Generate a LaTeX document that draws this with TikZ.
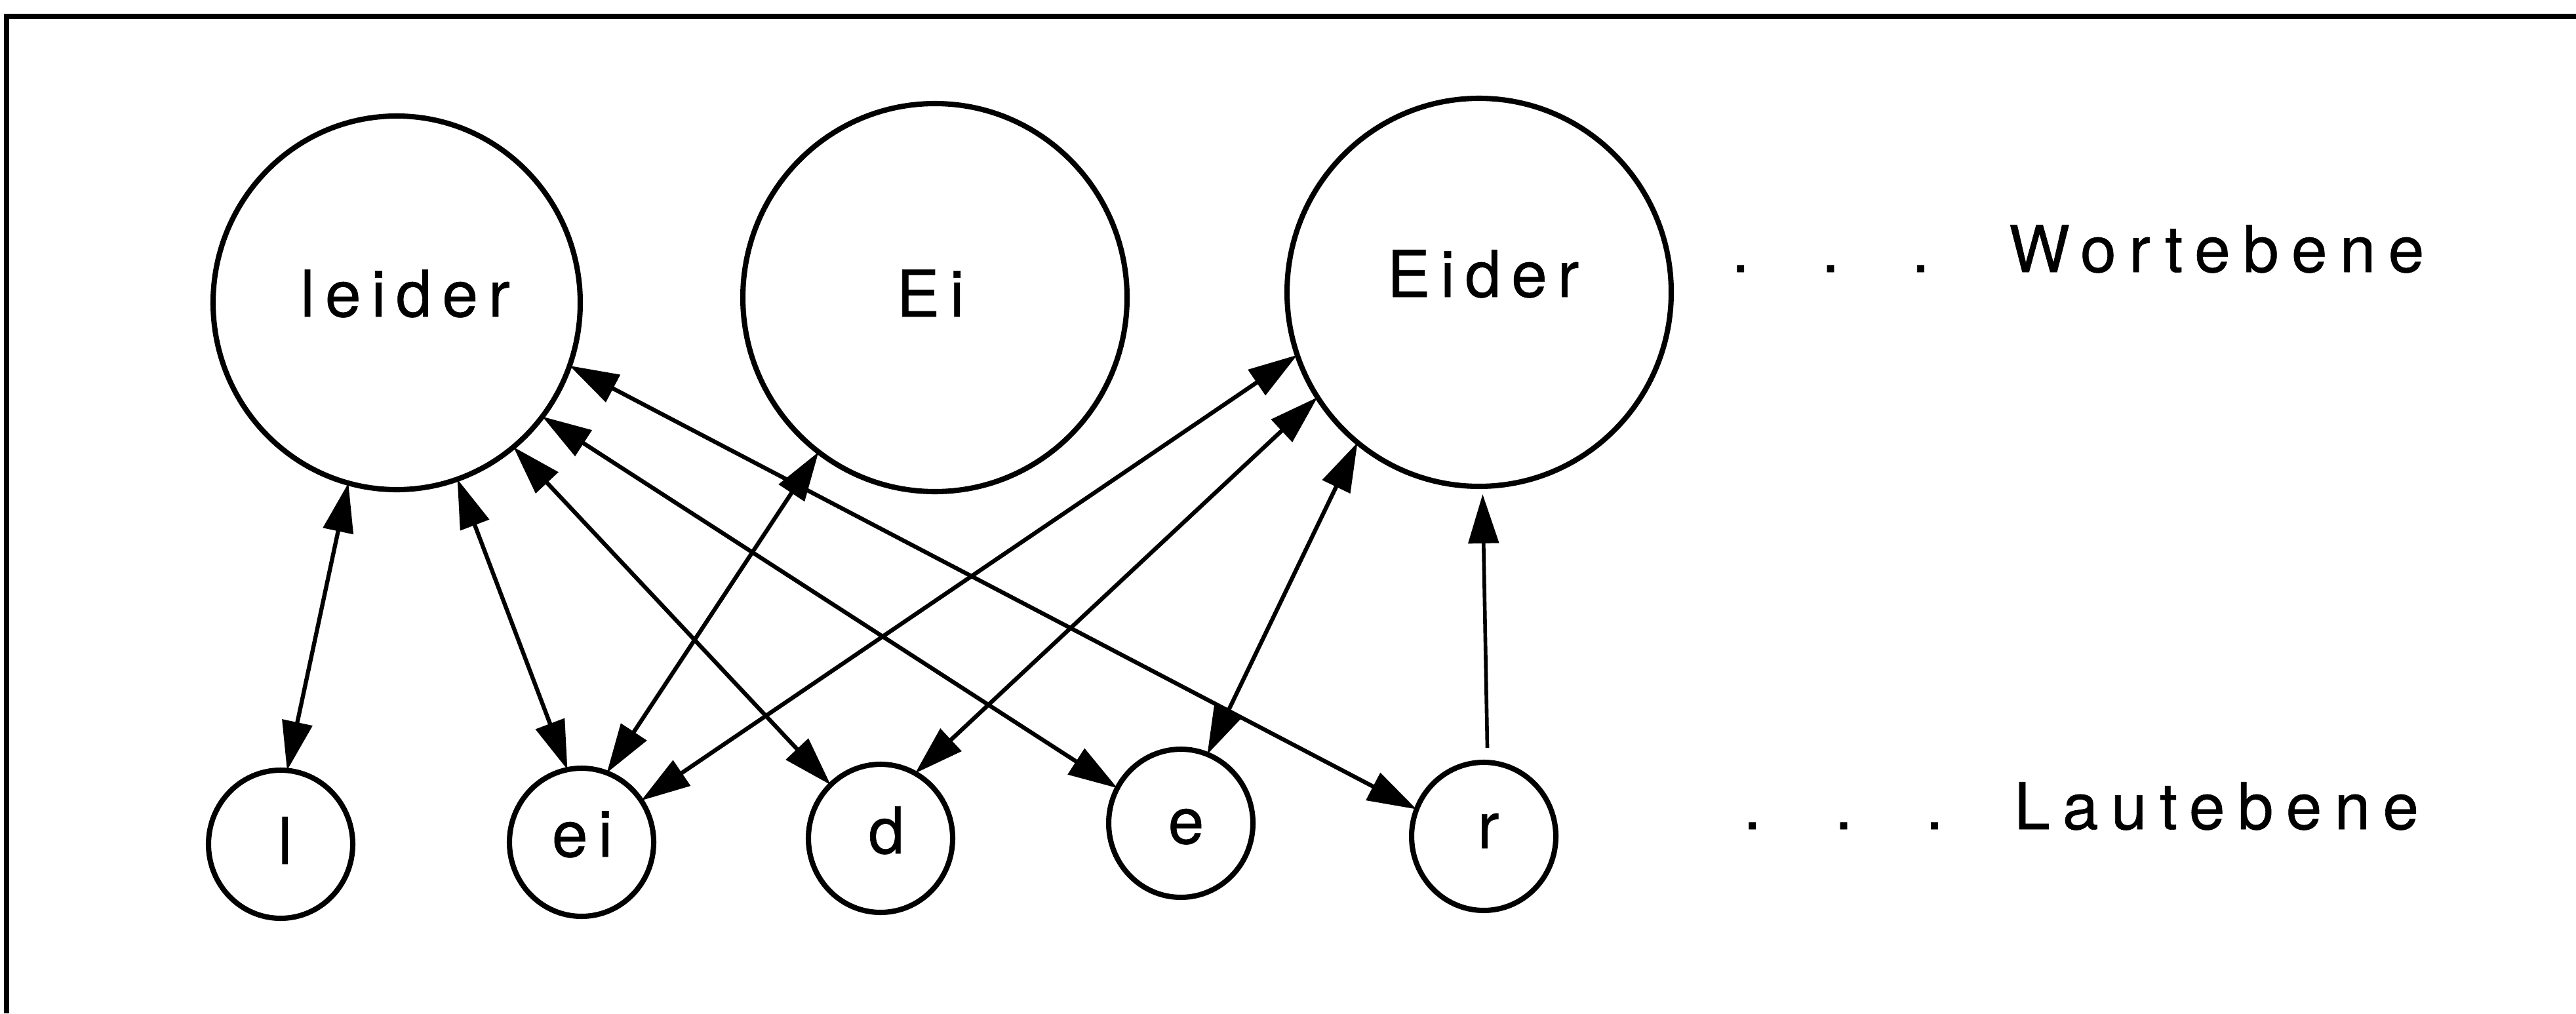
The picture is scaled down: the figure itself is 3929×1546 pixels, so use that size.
\documentclass[tikz,border=0pt]{standalone}
\usepackage{fontspec}
\setmainfont{TeX Gyre Heros}[FakeBold=0.6]
\newfontfamily\wordfont[LetterSpace=16,FakeBold=0.6]{TeX Gyre Heros}
\newfontfamily\levelfont[LetterSpace=19.5,FakeBold=0.6]{TeX Gyre Heros}
\usetikzlibrary{arrows.meta,shapes.geometric}

\begin{document}
\begin{tikzpicture}[x=0.1mm,y=-0.1mm,
  every node/.style={inner sep=0pt, outer sep=0pt},
  bigword/.style={ellipse, draw, line width=2.3pt, minimum width=58.6mm, minimum height=59.2mm},
  sound/.style={ellipse, draw, line width=2.3pt, minimum width=22mm, minimum height=22.6mm},
  lbl/.style={anchor=base, font=\wordfont\fontsize{28pt}{34pt}\selectfont},
  dots/.style={anchor=base west, font=\fontsize{28pt}{34pt}\selectfont},
  level/.style={anchor=base west, font=\levelfont\fontsize{28pt}{34pt}\selectfont},
  frame/.style={line width=2.2pt},
  >={Triangle[length=7.5mm,width=4.6mm]},
  link/.style={line width=1.8pt, <->},
  oneway/.style={line width=1.6pt, ->}
]
\useasboundingbox (0,0) rectangle (3929,1546);

% page frame (top and left rule)
\draw[frame] (10,1546) -- (10,25) -- (3929,25);

% word level
\node[bigword, minimum width=56mm, minimum height=57mm] (wLeider) at (605,462) {};
\node[bigword] (wEi) at (1426,454) {};
\node[bigword] (wEider) at (2256,446) {};
\node[lbl] (tLeider) at (618,483) {leider};
\node[lbl] (tEi) at (1419,483) {Ei};
\node[lbl] (tEider) at (2262,453) {Eider};

% sound level
\node[sound] (sL) at (428,1288) {};
\node[sound] (sEi) at (887,1285) {};
\node[sound] (sD) at (1343,1279) {};
\node[sound] (sE) at (1801,1256) {};
\node[sound] (sR) at (2263,1276) {};
\node[lbl] (tL) at (435,1318) {l};
\node[lbl] (tEi2) at (888,1307) {ei};
\node[lbl] (tD) at (1352,1302) {d};
\node[lbl] (tE) at (1809,1287) {e};
\node[lbl] (tR) at (2270,1294) {r};

% level names
\node[dots] (dW) at (2641,415) {.\hspace{11mm}.\hspace{11mm}.};
\node[level] (lW) at (3064,415) {Wortebene};
\node[dots] (dL) at (2659,1265) {.\hspace{11.2mm}.\hspace{11.1mm}.};
\node[level] (lL) at (3072,1265) {Lautebene};

% connections
\draw[link] (wLeider.-105.2) -- (sL.85.6);
\draw[link] (wLeider.-71.1) -- (sEi.101.4);
\draw[link] (wLeider.-51) -- (sD.133.7);
\draw[link] (wLeider.-38.7) -- (sE.151.4);
\draw[link] (wLeider.-20.5) -- (sR.158);
\draw[link] (wEi.-127.5) -- (sEi.70);
\draw[link] (wEider.-161.6) -- (sEi.35.9);
\draw[link] (wEider.-147.7) -- (sD.62.4);
\draw[link] (wEider.-129) -- (sE.69.6);
\draw[oneway, shorten <=2.2mm, shorten >=1.2mm] (sR.87.9) -- (wEider.-89.8);
\end{tikzpicture}
\end{document}
